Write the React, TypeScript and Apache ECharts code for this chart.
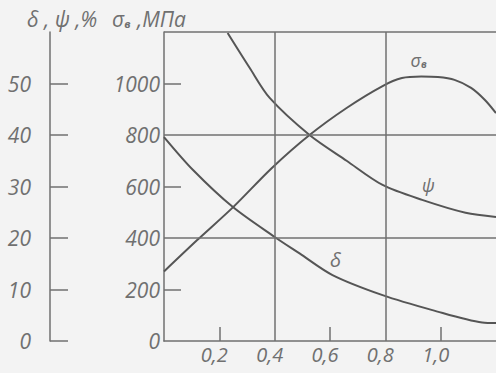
import React, { useEffect, useRef } from "react";
import * as echarts from "echarts";

const sigmaX = [0, 0.12, 0.25, 0.39, 0.526, 0.66, 0.79, 0.86, 0.93, 0.99, 1.05, 1.11, 1.16, 1.2];
const sigmaY = [270, 392, 520, 672, 800, 905, 990, 1021, 1027, 1025, 1014, 983, 936, 885];

const psiX = [0.23, 0.31, 0.382, 0.526, 0.66, 0.79, 0.933, 1.09, 1.2];
const psiY = [59.8, 53.0, 47.2, 40.0, 35.0, 30.3, 27.4, 24.9, 24.1];

const deltaX = [0, 0.105, 0.249, 0.4, 0.49, 0.609, 0.79, 0.97, 1.15, 1.2];
const deltaY = [39.6, 33.2, 26.0, 20.2, 17.0, 12.8, 8.9, 6.0, 3.6, 3.5];

const xLabelValues = [0.2, 0.4, 0.6, 0.8, 1.0];
const xTickValues = [0.2, 0.6, 1.0];
const xGridValues = [0.4, 0.8];
const sigmaTickValues = [200, 600, 1000];
const sigmaGridValues = [400, 800, 1200];
const pctTickValues = [0, 10, 20, 30, 40, 50];

const FONT = "Open Sans";
const GRAY = "#707070";
const CURVE = "#555555";

export default function App() {
  const ref = useRef<HTMLDivElement>(null);
  useEffect(() => {
    const chart = echarts.init(ref.current!, null, { renderer: "svg" });
    const labelStyle = {
      fontFamily: FONT,
      fontStyle: "italic",
      fontSize: 21,
      color: GRAY,
    };
    const curveLabel = (text: string, size: number, extra: any = {}) => ({
      show: true,
      formatter: text,
      fontFamily: FONT,
      fontStyle: "italic",
      fontSize: size,
      color: GRAY,
      position: "inside",
      ...extra,
    });
    chart.setOption({
      animation: false,
      backgroundColor: "#f3f3f3",
      grid: { left: 164, right: 0, top: 32, bottom: 32, containLabel: false },
      xAxis: {
        type: "value",
        min: 0,
        max: 1.2,
        interval: 0.2,
        axisLine: { show: true, lineStyle: { color: GRAY, width: 1.5 } },
        axisTick: {
          show: true,
          inside: true,
          length: 14,
          customValues: xTickValues,
          lineStyle: { color: GRAY, width: 1.5 },
        },
        splitLine: { show: false },
        axisLabel: {
          ...labelStyle,
          fontSize: 20,
          customValues: xLabelValues,
          margin: 3,
          padding: [0, 10, 0, 0],
          formatter: (v: number) => v.toFixed(1).replace(".", ","),
        },
      },
      yAxis: [
        {
          type: "value",
          min: 0,
          max: 1200,
          interval: 200,
          position: "left",
          axisLine: { show: true, lineStyle: { color: GRAY, width: 1.5 } },
          axisTick: {
            show: true,
            inside: true,
            length: 17,
            customValues: sigmaTickValues,
            lineStyle: { color: GRAY, width: 1.5 },
          },
          splitLine: { show: false },
          axisLabel: {
            ...labelStyle,
            margin: 4,
            formatter: (v: number) => (v >= 1200 ? "" : String(v)),
          },
        },
        {
          type: "value",
          min: 0,
          max: 60,
          interval: 10,
          position: "left",
          offset: 114,
          axisLine: { show: true, lineStyle: { color: GRAY, width: 1.5 } },
          axisTick: {
            show: true,
            inside: true,
            length: 18,
            customValues: pctTickValues,
            lineStyle: { color: GRAY, width: 1.5 },
          },
          splitLine: { show: false },
          axisLabel: {
            ...labelStyle,
            margin: 19,
            formatter: (v: number) => (v >= 60 ? "" : String(v)),
          },
        },
      ],
      graphic: [
        {
          type: "text",
          left: 27,
          top: 8,
          style: {
            text: "δ , ψ ,%",
            font: `italic 21px "${FONT}"`,
            fill: GRAY,
          },
        },
        {
          type: "text",
          left: 112,
          top: 8,
          style: {
            text: "σ{s|в} ,МПа",
            font: `italic 21px "${FONT}"`,
            fill: GRAY,
            rich: {
              s: {
                fontSize: 11,
                fontStyle: "italic",
                fontWeight: "bold",
                fontFamily: FONT,
                fill: GRAY,
                padding: [9, 1, 0, 0],
              },
            },
          } as any,
        },
      ],
      series: [
        {
          type: "line",
          yAxisIndex: 0,
          data: sigmaX.map((x, i) => [x, sigmaY[i]]),
          smooth: 0.3,
          symbol: "none",
          lineStyle: { color: CURVE, width: 2 },
          markLine: {
            silent: true,
            symbol: "none",
            label: { show: false },
            lineStyle: { color: GRAY, width: 1.5, type: "solid" },
            data: [
              ...xGridValues.map((v) => ({ xAxis: v })),
              ...sigmaGridValues.map((v) => ({ yAxis: v })),
            ],
          },
          markPoint: {
            symbol: "circle",
            symbolSize: 1,
            itemStyle: { color: "rgba(0,0,0,0)" },
            data: [
              {
                coord: [0.92, 1090],
                label: curveLabel("σ{s|в}", 18, {
                  rich: {
                    s: {
                      fontSize: 10,
                      fontFamily: FONT,
                      fontWeight: "bold",
                      color: GRAY,
                      padding: [8, 0, 0, 0],
                    },
                  },
                }),
              },
            ],
          },
        },
        {
          type: "line",
          yAxisIndex: 1,
          data: psiX.map((x, i) => [x, psiY[i]]),
          smooth: 0.3,
          symbol: "none",
          lineStyle: { color: CURVE, width: 2 },
          markPoint: {
            symbol: "circle",
            symbolSize: 1,
            itemStyle: { color: "rgba(0,0,0,0)" },
            data: [{ coord: [0.955, 30.2], label: curveLabel("ψ", 18) }],
          },
        },
        {
          type: "line",
          yAxisIndex: 1,
          data: deltaX.map((x, i) => [x, deltaY[i]]),
          smooth: 0.3,
          symbol: "none",
          lineStyle: { color: CURVE, width: 2 },
          markPoint: {
            symbol: "circle",
            symbolSize: 1,
            itemStyle: { color: "rgba(0,0,0,0)" },
            data: [{ coord: [0.62, 15.8], label: curveLabel("δ", 20) }],
          },
        },
      ],
    });
    return () => chart.dispose();
  }, []);
  return (
    <div
      ref={ref}
      style={{ position: "fixed", left: 0, top: 0, width: 496, height: 373 }}
    />
  );
}
